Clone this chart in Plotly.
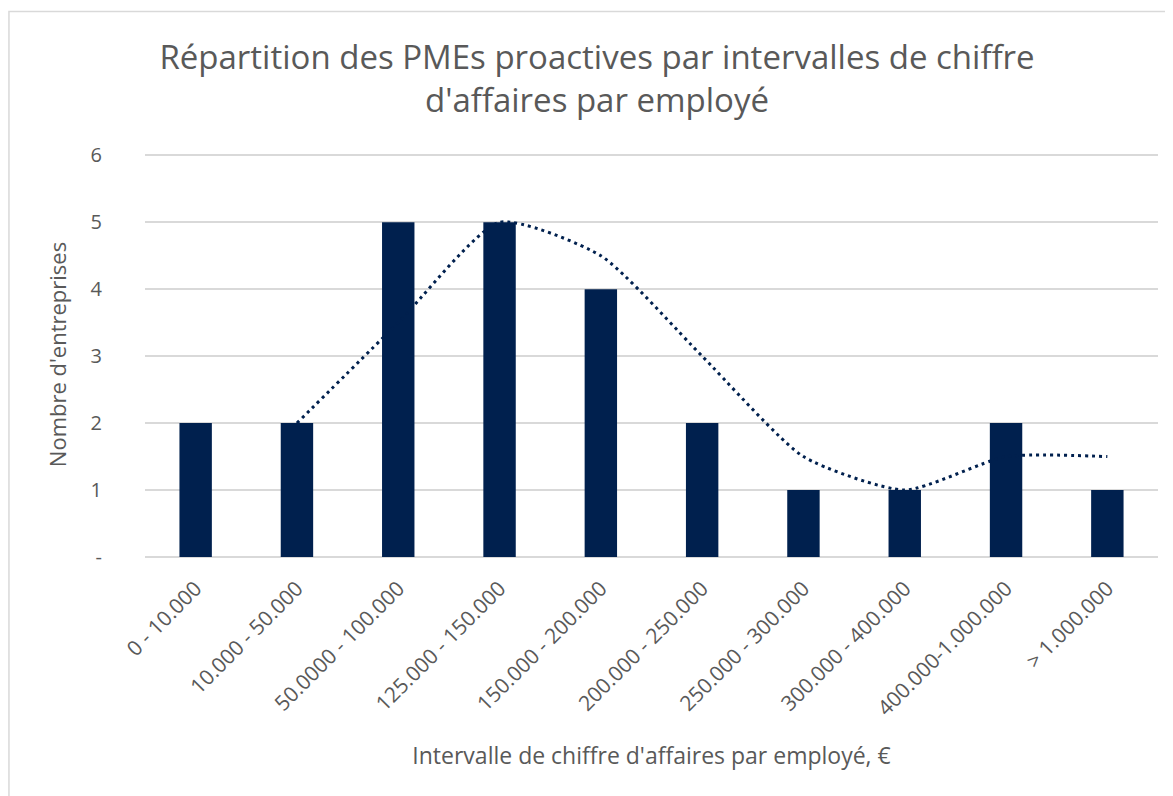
import plotly.graph_objects as go

categories = ["0 - 10.000", "10.000 - 50.000", "50.0000 - 100.000", "125.000 - 150.000",
              "150.000 - 200.000", "200.000 - 250.000", "250.000 - 300.000",
              "300.000 - 400.000", "400.000-1.000.000", "> 1.000.000"]
counts = [2, 2, 5, 5, 4, 2, 1, 1, 2, 1]
# 2-period moving-average trendline
trend = [None, 2, 3.5, 5, 4.5, 3, 1.5, 1, 1.5, 1.5]

y_ticks = [0, 1, 2, 3, 4, 5, 6]
y_ticktext = ["-", "1", "2", "3", "4", "5", "6"]

BAR = "#00204E"
TXT = "#595959"
GRID = "#D9D9D9"
FONT = "Open Sans"

fig = go.Figure()
fig.add_trace(go.Bar(x=categories, y=counts, marker=dict(color=BAR, line=dict(width=0)),
                     showlegend=False))
fig.add_trace(go.Scatter(x=categories, y=trend, mode="lines",
                         line=dict(color=BAR, width=3, dash="3px,4px", shape="spline", smoothing=0.6),
                         showlegend=False, connectgaps=False))

fig.update_layout(
    width=1165, height=788,
    paper_bgcolor="white", plot_bgcolor="white",
    margin=dict(l=137, r=15, t=144, b=239),
    bargap=0.68,
    font=dict(family=FONT, color=TXT),
    title=dict(text="Répartition des PMEs proactives par intervalles de chiffre<br>d'affaires par employé",
               x=0.5056, xanchor="center", y=0.922, yanchor="top",
               font=dict(size=33, color=TXT, family=FONT)),
    shapes=[dict(type="rect", xref="paper", yref="paper", x0=-0.1343, x1=1.02, y0=-0.61, y1=1.347,
                 line=dict(color=GRID, width=1.5), fillcolor="rgba(0,0,0,0)", layer="below")],
)
fig.update_xaxes(range=[-0.5, 9.5], tickangle=-45, tickfont=dict(size=21, color=TXT),
                 showgrid=False, showline=False, zeroline=False,
                 ticks="outside", ticklen=10, tickcolor="rgba(0,0,0,0)",
                 title=dict(text="Intervalle de chiffre d'affaires par employé, €",
                            font=dict(size=23, color=TXT), standoff=27))
fig.update_yaxes(range=[0, 6.05], tickvals=y_ticks, ticktext=y_ticktext,
                 tickfont=dict(size=20, color=TXT), showgrid=True, gridcolor=GRID, gridwidth=1.5,
                 zeroline=True, zerolinecolor=GRID, zerolinewidth=1.5,
                 ticks="outside", ticklen=38, tickcolor="rgba(0,0,0,0)",
                 title=dict(text="Nombre d'entreprises", font=dict(size=22, color=TXT), standoff=17))

fig.write_html("out.html")
